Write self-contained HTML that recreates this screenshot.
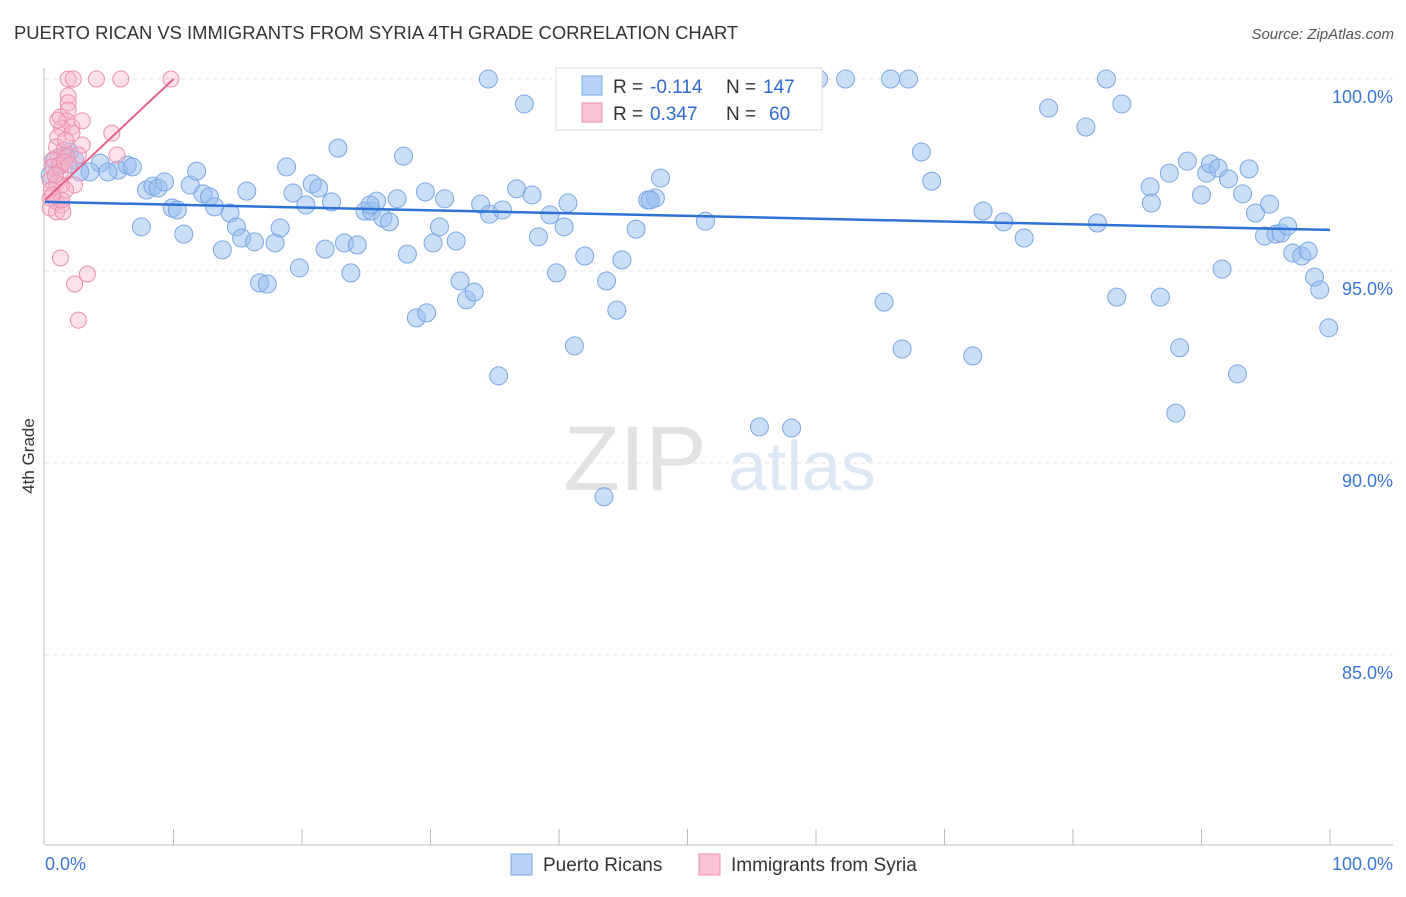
<!DOCTYPE html>
<html><head><meta charset="utf-8"><style>
body{margin:0;background:#fff;font-family:"Liberation Sans",sans-serif;}
svg text{font-family:"Liberation Sans",sans-serif;}
</style></head><body>
<svg id="chart" width="1406" height="892">
<text x="14" y="39" font-size="18.4" fill="#333">PUERTO RICAN VS IMMIGRANTS FROM SYRIA 4TH GRADE CORRELATION CHART</text>
<text x="1394" y="39" font-size="15" fill="#555" text-anchor="end" font-style="italic">Source: ZipAtlas.com</text>
<text transform="translate(34,456) rotate(-90)" font-size="17" fill="#333" text-anchor="middle">4th Grade</text>
<g><text x="635" y="490" font-size="92" fill="#e2e2e2" font-family="Liberation Serif" text-anchor="middle">ZIP</text><text x="802" y="490" font-size="70" fill="#dce8f6" text-anchor="middle">atlas</text></g>
<g id="grid"></g><g id="axes"></g><g id="pts"></g><g id="trend"></g>
<g>
<rect x="556" y="68" width="266" height="62" fill="#fff" stroke="#ddd"/>
<rect x="582" y="76" width="20" height="19" fill="#b8d3f5" stroke="#7aa8e0"/>
<rect x="582" y="103" width="20" height="19" fill="#f9c3d4" stroke="#ea8fae"/>
<text x="613" y="93" font-size="19" fill="#333">R =</text>
<text x="650" y="93" font-size="19" fill="#2f6bd0">-0.114</text>
<text x="726" y="93" font-size="19" fill="#333">N =</text>
<text x="763" y="93" font-size="19" fill="#2f6bd0">147</text>
<text x="613" y="120" font-size="19" fill="#333">R =</text>
<text x="650" y="120" font-size="19" fill="#2f6bd0">0.347</text>
<text x="726" y="120" font-size="19" fill="#333">N =</text>
<text x="769" y="120" font-size="19" fill="#2f6bd0">60</text>
</g>
<g>
<rect x="511" y="854" width="21" height="21" fill="#b8d3f5" stroke="#7aa8e0"/>
<text x="543" y="871" font-size="19" fill="#333">Puerto Ricans</text>
<rect x="699" y="854" width="21" height="21" fill="#f9c3d4" stroke="#ea8fae"/>
<text x="731" y="871" font-size="19" fill="#333">Immigrants from Syria</text>
</g>
</svg>
<script>
const yTicks=[100,95,90,85];
const yTickLabels=["100.0%","95.0%","90.0%","85.0%"];
const xEndLabels=["0.0%","100.0%"];
const blueX=[4.3,5.7,4.9,3.5,6.4,6.8,7.9,8.4,8.8,9.3,7.5,9.9,10.3,10.8,11.3,11.8,12.3,12.8,13.2,13.8,14.4,14.9,15.3,15.7,16.3,16.7,17.3,17.9,18.3,18.8,19.3,19.8,20.3,20.8,21.3,21.8,22.3,22.8,23.3,23.8,24.3,24.9,25.4,25.8,26.3,26.8,27.4,27.9,28.2,28.9,29.7,30.2,29.6,30.7,31.1,32.0,32.3,32.8,33.4,33.9,34.5,34.6,35.3,35.6,36.7,37.3,37.9,38.4,39.3,39.8,40.4,40.7,41.2,42.0,43.5,43.7,44.5,44.9,46.0,46.9,47.5,47.9,48.4,49.0,51.4,53.5,55.6,58.1,59.6,60.2,62.3,65.3,65.8,66.7,67.2,68.2,69.0,72.2,73.0,74.6,76.2,78.1,81.0,81.9,82.6,83.4,83.8,86.0,86.1,86.8,87.5,88.0,88.3,88.9,90.0,90.4,90.7,91.3,91.6,92.1,92.8,93.2,93.7,94.2,94.9,95.3,95.8,96.2,96.7,97.1,97.8,98.3,98.8,99.2,99.9,0.8,1.2,1.6,1.9,2.3,2.7,0.4,25.3,47.1];
const blueY=[97.81,97.63,97.58,97.58,97.76,97.71,97.11,97.21,97.16,97.32,96.15,96.64,96.59,95.96,97.24,97.60,97.01,96.93,96.67,95.55,96.51,96.15,95.86,97.08,95.76,94.69,94.66,95.73,96.12,97.71,97.03,95.08,96.72,97.27,97.16,95.57,96.80,98.20,95.73,94.95,95.68,96.56,96.56,96.82,96.38,96.28,96.88,97.99,95.44,93.78,93.91,95.73,97.06,96.15,96.88,95.78,94.74,94.25,94.45,96.74,100,96.48,92.27,96.59,97.14,99.35,96.98,95.89,96.46,94.95,96.15,96.77,93.05,95.39,89.12,94.74,93.98,95.29,96.09,96.85,96.90,97.42,100,100,96.30,100,90.94,90.91,100,100,100,94.19,100,92.97,100,98.10,97.34,92.79,96.56,96.28,95.86,99.24,98.75,96.25,100,94.32,99.35,97.19,96.77,94.32,97.55,91.30,93.00,97.86,96.98,97.55,97.79,97.68,95.05,97.40,92.32,97.01,97.66,96.51,95.91,96.74,95.96,95.99,96.17,95.47,95.39,95.52,94.84,94.51,93.52,97.89,97.76,98.02,98.10,97.89,97.58,97.50,96.72,96.85];
const pinkX=[1.8,2.2,4.0,5.9,9.8,1.8,1.8,1.8,1.2,1.7,2.1,2.9,1.3,5.2,1.0,2.1,2.9,0.9,1.5,1.0,1.7,0.6,1.2,2.6,5.6,0.6,1.2,0.4,0.9,1.3,2.3,0.5,1.6,0.4,0.9,1.3,0.4,0.9,1.4,1.2,3.3,2.3,2.6,1.5,0.8,1.9,1.6,1.0,1.3,0.6];
const pinkY=[100,100,100,100,100,99.56,99.38,99.19,99.01,98.91,98.75,98.91,98.72,98.59,98.49,98.59,98.28,98.23,98.15,97.97,97.97,97.89,97.76,98.02,98.02,97.71,97.58,97.37,97.29,97.24,97.24,97.11,97.11,96.90,96.80,96.72,96.64,96.54,96.54,95.34,94.92,94.66,93.72,97.84,97.50,97.76,98.41,98.93,96.85,96.98];
const blueTrendX=[0,100], blueTrendY=[96.80,96.07];
const pinkTrendX=[0,10], pinkTrendY=[96.85,100];

const NS="http://www.w3.org/2000/svg";
const sx=v=>45+v*12.85, sy=v=>79+(100-v)*38.4;
function mk(tag,attrs,parent){const e=document.createElementNS(NS,tag);for(const k in attrs)e.setAttribute(k,attrs[k]);document.getElementById(parent).appendChild(e);return e;}
yTicks.forEach((t,i)=>{
  const g=mk('line',{x1:45,x2:1393,y1:sy(t),y2:sy(t),stroke:'#e4e4e4','stroke-dasharray':'4,4'},'grid');
  
  
  const l=mk('text',{x:1393,y:sy(t)+24,'font-size':18,fill:'#3a76d6','text-anchor':'end'},'grid');l.textContent=yTickLabels[i];
  
  
});
const ax=mk('line',{x1:45,x2:1393,y1:845,y2:845,stroke:'#bbb'},'axes');


const ay=mk('line',{x1:44,x2:44,y1:68,y2:845,stroke:'#bbb'},'axes');


for(let i=1;i<=10;i++){const t=mk('line',{x1:sx(i*10),x2:sx(i*10),y1:829,y2:845,stroke:'#bbb'},'axes');
  
  }
const xl0=mk('text',{x:45,y:870,'font-size':18,fill:'#3a76d6'},'axes');xl0.textContent=xEndLabels[0];


const xl1=mk('text',{x:1393,y:870,'font-size':18,fill:'#3a76d6','text-anchor':'end'},'axes');xl1.textContent=xEndLabels[1];


blueX.forEach((x,i)=>{const c=mk('circle',{cx:sx(x),cy:sy(blueY[i]),r:9,fill:'rgba(150,190,240,0.5)',stroke:'#7ba7e2','stroke-width':1},'pts');
  
  });
pinkX.forEach((x,i)=>{const c=mk('circle',{cx:sx(x),cy:sy(pinkY[i]),r:8,fill:'rgba(248,180,202,0.4)',stroke:'#ec8fb0','stroke-width':1},'pts');
  
  });
const bt=mk('line',{x1:sx(blueTrendX[0]),y1:sy(blueTrendY[0]),x2:sx(blueTrendX[1]),y2:sy(blueTrendY[1]),stroke:'#2f72d6','stroke-width':2.5},'trend');


const pt=mk('line',{x1:sx(pinkTrendX[0]),y1:sy(pinkTrendY[0]),x2:sx(pinkTrendX[1]),y2:sy(pinkTrendY[1]),stroke:'#e8608c','stroke-width':2},'trend');


</script>
</body></html>
